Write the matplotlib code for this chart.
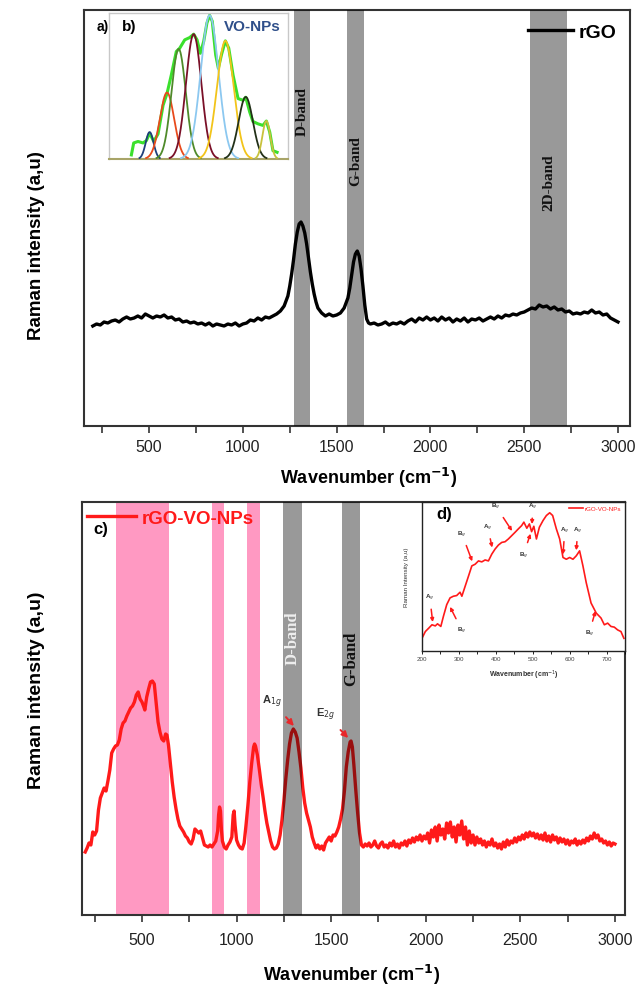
import matplotlib
matplotlib.use('Agg')
import matplotlib.pyplot as plt
import numpy as np
from matplotlib.ticker import MultipleLocator

plt.rcParams['font.family'] = ['Liberation Sans', 'DejaVu Sans']

# ---------------- data ----------------
# top panel: rGO Raman spectrum (arbitrary units)
rgo_x = [200, 220, 240, 260, 280, 300, 320, 340, 360, 380, 400, 420, 440, 460, 480, 500, 520, 540, 560, 580,
         600, 620, 640, 660, 680, 700, 720, 740, 760, 780, 800, 820, 840, 860, 880, 900, 920, 940, 960, 980,
         1000, 1020, 1040, 1060, 1080, 1100, 1120, 1140, 1160, 1180, 1200, 1220, 1240, 1250, 1260, 1270, 1280,
         1290, 1300, 1310, 1320, 1330, 1340, 1350, 1360, 1370, 1380, 1390, 1400, 1420, 1440, 1460, 1480, 1500,
         1520, 1540, 1560, 1570, 1580, 1590, 1600, 1610, 1620, 1630, 1640, 1650, 1660, 1670, 1680, 1700, 1720,
         1740, 1760, 1780, 1800, 1820, 1840, 1860, 1880, 1900, 1920, 1940, 1960, 1980, 2000, 2020, 2040, 2060,
         2080, 2100, 2120, 2140, 2160, 2180, 2200, 2220, 2240, 2260, 2280, 2300, 2320, 2340, 2360, 2380, 2400,
         2420, 2440, 2460, 2480, 2500, 2520, 2540, 2560, 2580, 2600, 2620, 2640, 2660, 2680, 2700, 2720, 2740,
         2760, 2780, 2800, 2820, 2840, 2860, 2880, 2900, 2920, 2940, 2960, 2980, 3000]
rgo_y = [106, 108, 107, 110, 109, 111, 112, 110, 113, 115, 113, 114, 116, 114, 118, 116, 114, 116, 115, 117,
         114, 115, 112, 113, 110, 111, 109, 110, 108, 109, 107, 109, 106, 108, 107, 106, 108, 107, 109, 106,
         108, 109, 112, 111, 114, 112, 115, 114, 116, 118, 121, 126, 136, 146, 158, 172, 188,
         200, 208, 210, 206, 199, 188, 174, 160, 148, 138, 130, 124, 119, 116, 118, 116, 117,
         119, 124, 134, 144, 157, 170, 178, 181, 176, 163, 146, 127, 113, 109, 108, 109, 107,
         108, 110, 107, 109, 108, 110, 108, 111, 113, 110, 114, 112, 115, 112, 114, 111, 115,
         112, 114, 110, 113, 111, 114, 110, 113, 112, 114, 111, 113, 115, 113, 116, 114, 117,
         116, 118, 117, 119, 120, 122, 124, 123, 127, 125, 126, 123, 125, 122, 123, 120, 121,
         118, 119, 118, 120, 119, 122, 119, 120, 117, 118, 114, 112, 110]

top_bands = [(1270, 1360), (1555, 1645), (2530, 2730)]
top_band_labels = ['D-band', 'G-band', '2D-band']
top_band_label_y = [321, 272, 250]

# inset b: VO-NPs deconvolution (normalised units)
vo_env_x = [12.5, 13.8, 16.2, 19.0, 20.9, 22.7, 25.0, 27.4, 30.2, 32.4, 34.8, 37.6, 39.5, 42.3, 45.1, 47.3,
            49.2, 51.0, 52.9, 54.7, 56.2, 57.7, 59.6, 61.1, 62.8, 65.0, 66.9, 69.3, 72.1, 74.9, 76.4, 78.6,
            80.4, 83.2, 86.0, 87.9, 89.8, 91.6, 93.9]
vo_env_y = [2.8, 11.0, 12.0, 11.0, 12.6, 17.7, 12.0, 17.2, 36.8, 44.8, 57.5, 73.6, 75.9, 81.6, 83.2, 85.5,
            81.6, 72.4, 80.5, 93.1, 98.4, 94.3, 71.3, 62.1, 71.3, 80.9, 75.9, 57.5, 41.4, 40.2, 42.3, 32.2,
            25.7, 24.1, 23.0, 26.0, 18.4, 5.7, 4.6]
vo_peak_center = [22.7, 32.4, 38.9, 47.3, 56.2, 65.0, 76.4, 87.9]
vo_peak_height = [18.4, 45.5, 75.4, 85.5, 98.4, 80.9, 42.5, 26.0]
vo_peak_width = [2.2, 4.0, 4.0, 4.3, 5.0, 4.7, 4.0, 2.2]
vo_peak_color = ['#1f3f7a', '#e84a1c', '#4f8a2a', '#7a1028', '#8cc8f0', '#f2c419', '#223018', '#c8c23c']

# bottom panel: rGO-VO-NPs
hyb_x = [200, 210, 220, 230, 240, 250, 260, 270, 280, 290, 300, 310, 320, 330, 340, 350, 360, 370, 380, 390,
         400, 410, 420, 430, 440, 450, 460, 470, 480, 490, 500, 510, 515, 525, 535, 545, 555, 565, 575, 585,
         595, 605, 615, 625, 632, 640, 650, 660, 670, 680, 690, 700, 710, 720, 730, 740, 750, 760, 770, 780,
         790, 800, 810, 820, 830, 840, 850, 860, 870, 880, 890, 900, 905, 910, 915, 920, 925, 935, 945, 955,
         965, 975, 982, 987, 992, 1000, 1010, 1020, 1030, 1040, 1050, 1060, 1070, 1080, 1090, 1095, 1100,
         1110, 1120, 1130, 1140, 1150, 1160, 1170, 1180, 1190, 1200, 1210, 1220, 1230, 1240, 1250, 1260,
         1270, 1280, 1290, 1300, 1310, 1320, 1330, 1340, 1350, 1360, 1370, 1380, 1390, 1400, 1410, 1420,
         1430, 1440, 1450, 1460, 1470, 1480, 1490, 1500, 1510, 1520, 1530, 1540, 1550, 1560, 1570, 1580,
         1590, 1600, 1605, 1612, 1620, 1630, 1640, 1650, 1660, 1670, 1680, 1690, 1700, 1710, 1720, 1730,
         1740, 1750, 1760, 1770, 1780, 1790, 1800, 1810, 1820, 1830, 1840, 1850, 1860, 1870, 1880, 1890,
         1900, 1910, 1920, 1930, 1940, 1950, 1960, 1970, 1980, 1990, 2000, 2010, 2020, 2030, 2040, 2050,
         2060, 2070, 2080, 2090, 2100, 2110, 2120, 2130, 2140, 2150, 2160, 2170, 2180, 2190, 2200, 2210,
         2220, 2230, 2240, 2250, 2260, 2270, 2280, 2290, 2300, 2310, 2320, 2330, 2340, 2350, 2360, 2370,
         2380, 2390, 2400, 2410, 2420, 2430, 2440, 2450, 2460, 2470, 2480, 2490, 2500, 2510, 2520, 2530,
         2540, 2550, 2560, 2570, 2580, 2590, 2600, 2610, 2620, 2630, 2640, 2650, 2660, 2670, 2680, 2690,
         2700, 2710, 2720, 2730, 2740, 2750, 2760, 2770, 2780, 2790, 2800, 2810, 2820, 2830, 2840, 2850,
         2860, 2870, 2880, 2890, 2900, 2910, 2920, 2930, 2940, 2950, 2960, 2970, 2980, 2990, 3000]
hyb_y = [63, 67, 72, 70, 83, 80, 84, 105, 117, 122, 127, 124, 134, 145, 162, 166, 169, 170, 175, 186,
         192, 194, 199, 203, 207, 209, 213, 220, 223, 216, 213, 208, 205, 218, 226, 233, 234, 231, 212, 193,
         183, 176, 174, 181, 180, 170, 152, 133, 118, 106, 96, 89, 86, 83, 79, 77, 73, 71, 76, 86,
         84, 82, 84, 77, 70, 69, 68, 70, 68, 71, 74, 84, 100, 108, 104, 85, 74, 68, 66, 70,
         73, 78, 100, 104, 90, 75, 70, 67, 66, 72, 90, 110, 133, 152, 168, 171, 169,
         160, 146, 131, 118, 104, 92, 83, 74, 68, 66, 67, 71, 80, 95, 114, 136,
         155, 171, 182, 186, 183, 177, 163, 147, 127, 112, 102, 95, 88, 78, 72, 67,
         70, 66, 69, 65, 72, 75, 78, 74, 80, 79, 83, 88, 96, 106, 124, 148,
         163, 173, 174, 168, 150, 125, 102, 82, 70, 68, 71, 69, 72, 68, 70, 74,
         69, 67, 71, 73, 68, 70, 67, 72, 69, 74, 68, 71, 67, 72, 70, 74,
         69, 75, 72, 77, 73, 78, 75, 80, 74, 79, 76, 82, 72, 85, 78, 88,
         74, 90, 80, 86, 76, 92, 82, 93, 78, 88, 73, 90, 80, 94, 76, 88,
         70, 84, 72, 80, 70, 78, 72, 76, 70, 74, 68, 73, 70, 76, 69, 72,
         67, 71, 66, 73, 68, 75, 70, 74, 72, 77, 73, 78, 75, 80, 76, 82,
         78, 83, 79, 82, 77, 81, 76, 80, 75, 82, 74, 79, 73, 80, 75, 78,
         72, 77, 73, 76, 71, 75, 70, 74, 72, 76, 70, 74, 71, 75, 72, 77,
         74, 79, 76, 82, 77, 80, 74, 76, 72, 74, 70, 73, 69, 72, 71]

pink_bands = [(363, 645), (870, 935), (1057, 1126)]
gray_bands = [(1248, 1348), (1557, 1652)]
bot_band_labels = ['D-band', 'G-band']
bot_band_label_y = [278, 257]
bot_band_label_colors = ['#eeeeee', '#111111']

peak_labels = ['A$_{1g}$', 'E$_{2g}$']
peak_text_xy = [(1185, 214), (1468, 201)]
peak_tip_xy = [(1303, 189), (1590, 177)]

# inset d: zoom of rGO-VO-NPs 200-750 cm-1
d_x = [200, 209, 218, 227, 236, 242, 251, 258, 267, 276, 285, 294, 303, 308, 317, 326, 335, 344, 353, 362,
       371, 380, 389, 398, 407, 416, 425, 434, 443, 452, 461, 470, 476, 484, 491, 497, 503, 510, 518, 528,
       537, 546, 554, 564, 573, 582, 591, 600, 609, 618, 627, 636, 645, 658, 672, 685, 694, 703, 712, 721,
       730, 739, 747]
d_y = [1.2, 6.1, 8.5, 11.0, 10.2, 11.7, 9.8, 17.1, 25.6, 30.5, 31.7, 32.2, 34.6, 31.7, 39.0, 46.3, 53.7, 54.9,
       57.3, 56.6, 58.0, 57.3, 62.2, 65.9, 68.8, 70.7, 71.2, 73.2, 75.6, 78.0, 80.5, 82.9, 85.4, 81.0, 84.1,
       78.5, 82.4, 73.2, 81.7, 86.6, 90.2, 92.2, 90.2, 80.5, 73.2, 59.8, 58.5, 59.8, 58.5, 61.0, 64.6, 53.7,
       41.5, 26.8, 19.5, 15.9, 11.0, 12.2, 9.8, 9.3, 7.3, 6.1, 1.2]
d_labels = ['A$_g$', 'B$_g$', 'B$_g$', 'A$_g$', 'B$_g$', 'A$_g$', 'B$_g$', 'A$_g$', 'A$_g$', 'B$_g$']
d_text_xy = [(221, 31), (308, 7), (308, 77), (378, 82), (400, 97), (500, 97), (475, 62), (587, 80), (622, 80),
             (653, 5)]
d_tip_xy = [(229, 13), (276, 24), (336, 57), (390, 67), (444, 79), (498, 84), (494, 77), (582, 62), (618, 65),
            (670, 21)]

# ---------------- figure ----------------
fig = plt.figure(figsize=(6.36, 9.87), dpi=100)
W, H = 636.0, 987.0


def ax_px(l, t, r, b):
    return [l / W, 1 - b / H, (r - l) / W, (b - t) / H]


spine_col = '#333333'
band_kw = dict(color='black', alpha=0.4, lw=0)


def style_main(ax, xlim, ylim, pad):
    ax.set_xlim(*xlim)
    ax.set_ylim(*ylim)
    ax.set_yticks([])
    ax.xaxis.set_major_locator(MultipleLocator(500))
    ax.xaxis.set_minor_locator(MultipleLocator(250))
    ax.tick_params(axis='x', which='both', direction='out', length=5, width=1.2, colors=spine_col,
                   labelsize=11.5, labelcolor='#222222', pad=pad)
    for s in ax.spines.values():
        s.set_linewidth(1.5)
        s.set_color(spine_col)


# ---- top panel ----
ax1 = fig.add_axes(ax_px(84, 11, 630, 427))
style_main(ax1, (153, 3064), (6, 422), 4)
ax1.plot(rgo_x, rgo_y, color='black', lw=2.4, zorder=2, label='rGO')
for (a, b), lab, ly in zip(top_bands, top_band_labels, top_band_label_y):
    ax1.axvspan(a, b, zorder=3, **band_kw)
    ax1.text((a + b) / 2, ly, lab, rotation=90, ha='center', va='center', fontsize=11,
             family='Liberation Serif', fontweight='bold', color='#111111', zorder=5)
leg1 = ax1.legend(loc='upper right', bbox_to_anchor=(1.0, 1.0), frameon=False, handlelength=2.3,
                  handletextpad=0.3, borderaxespad=0.3, prop=dict(weight='bold', size=14))
ax1.text(0.023, 0.962, 'a)', transform=ax1.transAxes, ha='left', va='center', fontsize=10, fontweight='bold')

# inset b
axb = fig.add_axes(ax_px(109, 14, 288, 160))
axb.set_xlim(0, 100)
axb.set_ylim(0, 100)
axb.set_xticks([])
axb.set_yticks([])
for s in axb.spines.values():
    s.set_color('#c8c8c8')
    s.set_linewidth(1.0)
axb.spines['bottom'].set_color('#a8a468')
axb.spines['bottom'].set_linewidth(1.5)
axb.plot(vo_env_x, vo_env_y, color='#3be02c', lw=2.2, zorder=2)
gx = np.linspace(0, 100, 600)
for c, h, w, col in zip(vo_peak_center, vo_peak_height, vo_peak_width, vo_peak_color):
    g = h * np.exp(-0.5 * ((gx - c) / w) ** 2)
    m = g > 0.6
    axb.plot(gx[m], g[m], color=col, lw=1.3, zorder=3)
axb.text(0.071, 0.913, 'b)', transform=axb.transAxes, ha='left', va='center', fontsize=11, fontweight='bold')
axb.text(0.80, 0.913, 'VO-NPs', transform=axb.transAxes, ha='center', va='center', fontsize=11,
         fontweight='bold', color='#2f4f8a')

fig.text(37 / W, 1 - 246 / H, 'Raman intensity (a,u)', rotation=90, ha='center', va='center', fontsize=13.5,
         fontweight='bold')
fig.text(369 / W, 1 - 478 / H, 'Wavenumber (cm$^{\\mathbf{-1}}$)', ha='center', va='center', fontsize=13,
         fontweight='bold')

# ---- bottom panel ----
ax2 = fig.add_axes(ax_px(82, 503, 625, 916))
style_main(ax2, (183, 3053), (0, 413), 7)
for a, b in pink_bands:
    ax2.axvspan(a, b, color='#ff99c2', lw=0, zorder=1)
ax2.plot(hyb_x, hyb_y, color='#ff1a1a', lw=2.4, zorder=2, label='rGO-VO-NPs')
for (a, b), lab, ly, col in zip(gray_bands, bot_band_labels, bot_band_label_y, bot_band_label_colors):
    ax2.axvspan(a, b, zorder=3, **band_kw)
    ax2.text((a + b) / 2, ly, lab, rotation=90, ha='center', va='center', fontsize=12,
             family='Liberation Serif', fontweight='bold', color=col, zorder=5)
for lab, txy, tip in zip(peak_labels, peak_text_xy, peak_tip_xy):
    ax2.annotate(lab, xy=tip, xytext=txy, ha='center', va='center', fontsize=8, color='#333333',
                 fontweight='bold', zorder=6,
                 arrowprops=dict(arrowstyle='-|>', color='#e8282b', lw=1.4, mutation_scale=9,
                                 shrinkA=5, shrinkB=0))
leg2 = ax2.legend(loc='upper left', bbox_to_anchor=(-0.005, 1.0), frameon=False, handlelength=2.6,
                  handletextpad=0.35, borderaxespad=0.2, borderpad=0.2,
                  prop=dict(weight='bold', size=13.5))
for t in leg2.get_texts():
    t.set_color('#ff1a1a')
ax2.text(0.021, 0.937, 'c)', transform=ax2.transAxes, ha='left', va='center', fontsize=12, fontweight='bold')

# inset d
axd = fig.add_axes(ax_px(422, 503, 625, 652))
axd.set_xlim(200, 750)
axd.set_ylim(-8, 100)
axd.set_yticks([])
axd.xaxis.set_major_locator(MultipleLocator(100))
axd.xaxis.set_minor_locator(MultipleLocator(50))
axd.tick_params(axis='x', which='both', direction='out', length=2, width=0.6, labelsize=4.5, pad=1.5,
                labelcolor='#444444')
for s in axd.spines.values():
    s.set_linewidth(1.0)
    s.set_color('#222222')
axd.plot(d_x, d_y, color='#ff1a1a', lw=1.2, label='rGO-VO-NPs')
for lab, txy, tip in zip(d_labels, d_text_xy, d_tip_xy):
    axd.annotate(lab, xy=tip, xytext=txy, ha='center', va='center', fontsize=4.5, color='#333333',
                 fontweight='bold',
                 arrowprops=dict(arrowstyle='-|>', color='#ff1a1a', lw=1.1, mutation_scale=5,
                                 shrinkA=3, shrinkB=0))
legd = axd.legend(loc='upper right', frameon=False, handlelength=2.2, handletextpad=0.3, borderaxespad=0.2,
                  prop=dict(size=4.5))
for t in legd.get_texts():
    t.set_color('#ff1a1a')
axd.text(0.072, 0.926, 'd)', transform=axd.transAxes, ha='left', va='center', fontsize=12, fontweight='bold')
axd.text(-0.075, 0.5, 'Raman Intensity (a,u)', transform=axd.transAxes, rotation=90, ha='center',
         va='center', fontsize=4.5, color='#333333')
axd.text(0.5, -0.16, 'Wavenumber (cm$^{-1}$)', transform=axd.transAxes, ha='center', va='center',
         fontsize=5, fontweight='bold', color='#333333')

fig.text(37 / W, 1 - 690 / H, 'Raman intensity (a,u)', rotation=90, ha='center', va='center', fontsize=14,
         fontweight='bold')
fig.text(352 / W, 1 - 975 / H, 'Wavenumber (cm$^{\\mathbf{-1}}$)', ha='center', va='center', fontsize=13,
         fontweight='bold')

fig.savefig('out.png', dpi=100)
